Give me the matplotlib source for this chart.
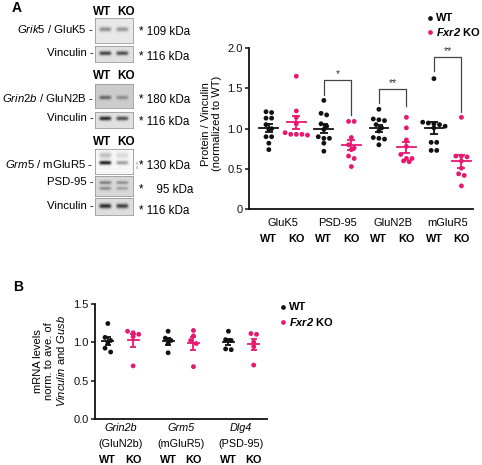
import numpy as np
import matplotlib
matplotlib.use('Agg')
import matplotlib.pyplot as plt
from matplotlib import transforms
from matplotlib.lines import Line2D

plt.rcParams['font.family'] = ['Liberation Sans', 'DejaVu Sans']
plt.rcParams['mathtext.fontset'] = 'custom'
plt.rcParams['mathtext.rm'] = 'Liberation Sans'
plt.rcParams['mathtext.it'] = 'Liberation Sans:italic'
plt.rcParams['mathtext.bf'] = 'Liberation Sans:bold'
plt.rcParams['mathtext.bfit'] = 'Liberation Sans:italic:bold'

# ---------------- data: panel A (protein / vinculin, normalized to WT) -------------
proteins = ['GluK5', 'PSD-95', 'GluN2B', 'mGluR5']
gluk5_wt = [1.21, 1.20, 1.13, 1.13, 1.05, 1.00, 0.99, 0.90, 0.90, 0.82, 0.74]
gluk5_ko = [1.65, 1.22, 1.14, 1.06, 0.95, 0.93, 0.93, 0.93, 0.92]
psd95_wt = [1.35, 1.19, 1.17, 1.06, 1.03, 0.99, 0.90, 0.88, 0.88, 0.82, 0.72]
psd95_ko = [1.09, 1.09, 0.89, 0.80, 0.76, 0.74, 0.66, 0.63, 0.53]
glun2b_wt = [1.24, 1.12, 1.11, 1.10, 1.05, 1.01, 0.97, 0.89, 0.88, 0.87, 0.80]
glun2b_ko = [1.14, 1.01, 0.86, 0.78, 0.68, 0.63, 0.63, 0.60, 0.59]
mglur5_wt = [1.62, 1.08, 1.07, 1.06, 1.05, 1.03, 1.01, 0.83, 0.83, 0.73, 0.73]
mglur5_ko = [1.14, 0.66, 0.66, 0.65, 0.60, 0.51, 0.44, 0.42, 0.29]
wt_A = [gluk5_wt, psd95_wt, glun2b_wt, mglur5_wt]
ko_A = [gluk5_ko, psd95_ko, glun2b_ko, mglur5_ko]
yticks_A = [0, 0.5, 1.0, 1.5, 2.0]
yticklabels_A = ['0', '0.5', '1.0', '1.5', '2.0']

# significance brackets (protein index, label, top, left leg end, right leg end)
sig_index = [1, 2, 3]
sig_label = ['*', '**', '**']
sig_top = [1.60, 1.49, 1.89]
sig_left = [1.42, 1.32, 1.71]
sig_right = [1.17, 1.28, 1.21]

# ---------------- data: panel B (mRNA) -------------
genes = ['Grin2b', 'Grm5', 'Dlg4']
gene_products = ['(GluN2b)', '(mGluR5)', '(PSD-95)']
grin2b_wt = [1.24, 1.06, 1.02, 0.99, 0.92, 0.87]
grin2b_ko = [1.14, 1.12, 1.10, 1.07, 0.69]
grm5_wt = [1.14, 1.05, 1.02, 0.98, 0.86]
grm5_ko = [1.15, 1.08, 1.02, 0.98, 0.68]
dlg4_wt = [1.14, 1.03, 1.02, 0.91, 0.90]
dlg4_ko = [1.11, 1.10, 1.00, 0.94, 0.70]
wt_B = [grin2b_wt, grm5_wt, dlg4_wt]
ko_B = [grin2b_ko, grm5_ko, dlg4_ko]
yticks_B = [0.0, 0.5, 1.0, 1.5]

BLACK = '#111111'
PINK = '#e8176f'
W, H = 482, 465
fig = plt.figure(figsize=(W / 100, H / 100), dpi=100)
FS = 7.8


def fpos(x, y):
    return x / W, 1 - y / H


def ftext(x, y, s, **kw):
    kw.setdefault('va', 'center')
    kw.setdefault('fontsize', FS)
    fig.text(*fpos(x, y), s, **kw)


def add_ax(l, t, r, b):
    return fig.add_axes([l / W, 1 - b / H, (r - l) / W, (b - t) / H])


def rows_offsets(values, ypx, d):
    """Prism-like scatter: points in rows, rows centered."""
    v = np.asarray(values, float)
    order = np.argsort(-v)
    offs = np.zeros(len(v))
    rows = []
    cur = [order[0]]
    for i in order[1:]:
        if abs(v[cur[0]] - v[i]) * ypx < d * 0.8:
            cur.append(i)
        else:
            rows.append(cur)
            cur = [i]
    rows.append(cur)
    for r in rows:
        n = len(r)
        for k, i in enumerate(r):
            offs[i] = (k - (n - 1) / 2) * d
    return offs


def style_axis(ax):
    for s in ['top', 'right']:
        ax.spines[s].set_visible(False)
    for s in ['left', 'bottom']:
        ax.spines[s].set_linewidth(1.3)
        ax.spines[s].set_color(BLACK)
    ax.tick_params(axis='y', length=3, width=1.1, labelsize=8, pad=1.5, colors=BLACK)
    ax.tick_params(axis='x', length=0)
    ax.set_xticks([])


def dots(ax, xc, vals, color, xpx, ypx, d, half_mean, cap):
    offs = rows_offsets(vals, ypx, d)
    ax.scatter(xc + offs / xpx, vals, s=12, color=color, edgecolors='none', zorder=3,
               clip_on=False)
    m = np.mean(vals)
    sem = np.std(vals, ddof=1) / np.sqrt(len(vals))
    ax.plot([xc - half_mean, xc + half_mean], [m, m], color=color, lw=1.3, zorder=4)
    ax.errorbar([xc], [m], yerr=[sem], color=color, lw=1.3, capsize=cap, capthick=1.3,
                zorder=4, fmt='none')


# ================= Panel A plot =================
axA = add_ax(249, 48, 473, 209.3)
style_axis(axA)
xlimA = (-0.61, 3.46)
axA.set_xlim(*xlimA)
axA.set_ylim(0, 2.0)
axA.set_yticks(yticks_A)
axA.set_yticklabels(yticklabels_A)
xpxA = 224 / (xlimA[1] - xlimA[0])
ypxA = 161.3 / 2.0
offA = 0.25
for i in range(len(proteins)):
    dots(axA, i - offA, wt_A[i], BLACK, xpxA, ypxA, 5.6, 0.17, 2.8)
    dots(axA, i + offA, ko_A[i], PINK, xpxA, ypxA, 5.6, 0.17, 2.8)
trA = transforms.blended_transform_factory(axA.transData, fig.transFigure)
for i, p in enumerate(proteins):
    axA.text(i, 1 - 223 / H, p, transform=trA, ha='center', va='center', fontsize=8)
    axA.text(i - offA, 1 - 239 / H, 'WT', transform=trA, ha='center', va='center',
             fontsize=FS, fontweight='bold')
    axA.text(i + offA, 1 - 239 / H, 'KO', transform=trA, ha='center', va='center',
             fontsize=FS, fontweight='bold')
for k, gi in enumerate(sig_index):
    xl, xr = gi - offA, gi + offA
    axA.plot([xl, xl, xr, xr], [sig_left[k], sig_top[k], sig_top[k], sig_right[k]],
             color='#444444', lw=0.9, clip_on=False)
    axA.text(gi, sig_top[k] + 0.015, sig_label[k], ha='center', va='bottom', fontsize=7.5,
             color='#333333')
axA.set_ylabel('Protein / Vinculin\n(normalized to WT)', fontsize=8, linespacing=1.1)
axA.yaxis.set_label_coords(-0.12, 0.53)

# legend A
for (y, lab, c) in [(18, 'WT', BLACK), (32, r'$\mathbfit{Fxr2}$ KO', PINK)]:
    fig.add_artist(Line2D([430 / W], [1 - y / H], marker='o', ms=3.4, color=c, mec='none',
                          transform=fig.transFigure))
    ftext(436, y, lab, fontweight='bold', fontsize=8)

# ================= Panel B plot =================
axB = add_ax(95, 303.5, 267, 419)
style_axis(axB)
xlimB = (-0.423, 2.43)
axB.set_xlim(*xlimB)
axB.set_ylim(0, 1.5)
axB.set_yticks(yticks_B)
axB.set_yticklabels(['%.1f' % t for t in yticks_B])
xpxB = 172 / (xlimB[1] - xlimB[0])
ypxB = 115.5 / 1.5
offB = 0.21
for i in range(len(genes)):
    dots(axB, i - offB, wt_B[i], BLACK, xpxB, ypxB, 5.6, 0.09, 2.2)
    dots(axB, i + offB, ko_B[i], PINK, xpxB, ypxB, 5.6, 0.09, 2.2)
trB = transforms.blended_transform_factory(axB.transData, fig.transFigure)
for i, g in enumerate(genes):
    axB.text(i, 1 - 428 / H, g, transform=trB, ha='center', va='center', fontsize=FS,
             style='italic')
    axB.text(i, 1 - 444 / H, gene_products[i], transform=trB, ha='center', va='center',
             fontsize=FS)
    axB.text(i - offB, 1 - 460 / H, 'WT', transform=trB, ha='center', va='center',
             fontsize=FS, fontweight='bold')
    axB.text(i + offB, 1 - 460 / H, 'KO', transform=trB, ha='center', va='center',
             fontsize=FS, fontweight='bold')
axB.set_ylabel('mRNA levels\nnorm. to ave. of\n$\\mathit{Vinculin}$ and $\\mathit{Gusb}$',
               fontsize=8, linespacing=1.1)
axB.yaxis.set_label_coords(-0.165, 0.5)

for (y, lab, c) in [(307, 'WT', BLACK), (322, r'$\mathbfit{Fxr2}$ KO', PINK)]:
    fig.add_artist(Line2D([283 / W], [1 - y / H], marker='o', ms=3.4, color=c, mec='none',
                          transform=fig.transFigure))
    ftext(289, y, lab, fontweight='bold', fontsize=8)

# ================= Western blot images (panel A, left) =================
def blot(x0, y0, x1, y1, bg, bands):
    ax = add_ax(x0, y0, x1, y1)
    h = int((y1 - y0) * 4)
    w = int((x1 - x0) * 4)
    yy = np.linspace(0, 1, h)[:, None]
    xx = np.linspace(0, 1, w)[None, :]
    img = np.full((h, w), bg, float)
    for (yc, sig, iwt, iko) in bands:
        for xc, inten in [(0.27, iwt), (0.72, iko)]:
            lane = np.exp(-((xx - xc) / 0.16) ** 6)
            img = img - inten * lane * np.exp(-((yy - yc) / sig) ** 2)
    ax.imshow(np.clip(img, 0, 1), cmap='gray', vmin=0, vmax=1, aspect='auto',
              interpolation='bilinear')
    ax.set_xticks([])
    ax.set_yticks([])
    for s in ax.spines.values():
        s.set_color('#9a9a9a')
        s.set_linewidth(0.6)


blot(95, 18, 133, 43, 0.91, [(0.45, 0.09, 0.35, 0.32)])
blot(95, 46, 133, 62, 0.88, [(0.45, 0.13, 0.62, 0.58)])
blot(95, 84, 133, 108, 0.80, [(0.58, 0.08, 0.40, 0.25)])
blot(95, 112, 133, 128, 0.88, [(0.40, 0.13, 0.72, 0.58)])
blot(95, 149, 133, 174, 0.97, [(0.55, 0.08, 0.85, 0.35), (0.25, 0.12, 0.22, 0.12)])
blot(95, 176, 133, 196, 0.85, [(0.33, 0.09, 0.35, 0.28), (0.62, 0.09, 0.30, 0.22)])
blot(95, 198, 133, 215, 0.87, [(0.50, 0.13, 0.70, 0.62)])

for y in [12, 76, 142]:
    ftext(102, y, 'WT', ha='center', fontweight='bold', fontsize=8.5)
    ftext(126, y, 'KO', ha='center', fontweight='bold', fontsize=8.5)

blot_labels = [(29, r'$\mathit{Grik5}$ / GluK5 -'), (53, 'Vinculin -'),
               (98, r'$\mathit{Grin2b}$ / GluN2B -'), (118, 'Vinculin -'),
               (164, r'$\mathit{Grm5}$ / mGluR5 -'), (182, 'PSD-95 -'), (206, 'Vinculin -')]
for y, s in blot_labels:
    ftext(93.5, y, s, ha='right', fontsize=8.2)

kda_labels = [(32, '* 109 kDa'), (57, '* 116 kDa'), (100, '* 180 kDa'), (122, '* 116 kDa'),
              (166, '* 130 kDa'), (190, '*    95 kDa'), (211, '* 116 kDa')]
for y, s in kda_labels:
    ftext(139, y, s, ha='left', fontsize=8.4)
ftext(136, 165, '¦', ha='center', fontsize=6, color='#555555')

ftext(17, 8, 'A', fontweight='bold', fontsize=10, ha='center')
ftext(18, 287, 'B', fontweight='bold', fontsize=10, ha='center')

fig.savefig('out.png', dpi=100)
